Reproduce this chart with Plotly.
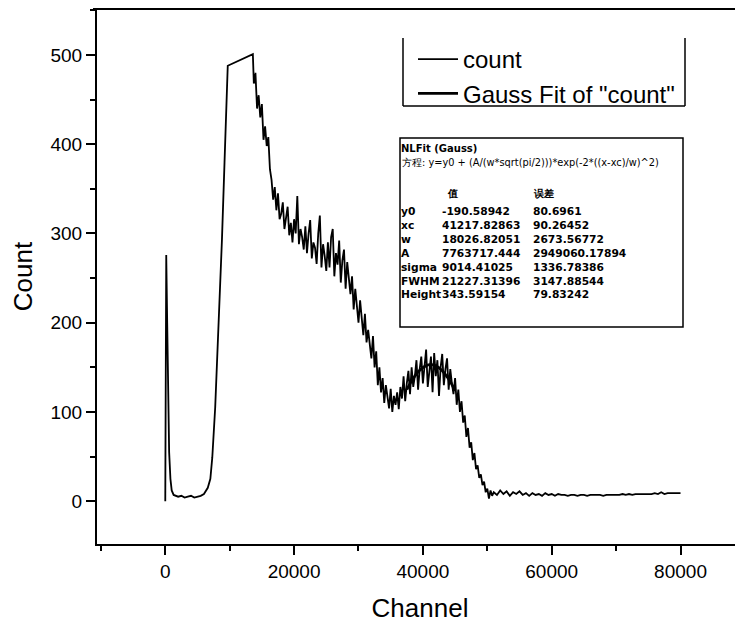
import plotly.graph_objects as go

# ---------------- data ----------------
channel_start = [0, 150, 300, 450, 600, 800, 1000, 1300, 1600, 2000, 2500, 3000, 3500,
                 4000, 4500, 5000, 5500, 6000, 6600, 7000, 7300, 7750, 8200, 8800, 9200, 9700]
count_start = [0, 276, 200, 100, 55, 25, 12, 7, 6, 5, 6, 4, 5,
               6, 4, 5, 6, 8, 15, 25, 49, 105, 180, 293, 380, 488]

channel_main = [13600, 13750, 14000, 14250, 14500, 14750, 15000, 15250, 15500, 15750,
                16000, 16250, 16500, 16750, 17000, 17250, 17500, 17750, 18000, 18250,
                18500, 18750, 19000, 19250, 19500, 19750, 20000, 20250, 20500, 20750,
                21000, 21250, 21500, 21750, 22000, 22250, 22500, 22750, 23000, 23250,
                23500, 23750, 24000, 24250, 24500, 24750, 25000, 25250, 25500, 25750,
                26000, 26250, 26500, 26750, 27000, 27250, 27500, 27750, 28000, 28250,
                28500, 28750, 29000, 29250, 29500, 29750, 30000, 30250, 30500, 30750,
                31000, 31250, 31500, 31750, 32000, 32250, 32500, 32750, 33000, 33250,
                33500, 33750, 34000, 34250, 34500, 34750, 35000, 35250, 35500, 35750,
                36000, 36250, 36500, 36750, 37000, 37250, 37500, 37750, 38000, 38250,
                38500, 38750, 39000, 39250, 39500, 39750, 40000, 40250, 40500, 40750,
                41000, 41250, 41500, 41750, 42000, 42250, 42500, 42750, 43000, 43250,
                43500, 43750, 44000, 44250, 44500, 44750, 45000, 45250, 45500, 45750,
                46000, 46250, 46500, 46750, 47000, 47250, 47500, 47750, 48000, 48250,
                48500, 48750, 49000, 49250, 49500, 49750, 50000, 50250, 50500, 50750]
count_main = [501, 468, 480, 440, 455, 430, 445, 405, 420, 398,
              408, 372, 360, 338, 352, 326, 345, 316, 322, 335,
              305, 318, 330, 298, 312, 290, 316, 300, 342, 288,
              305, 296, 282, 308, 278, 300, 315, 272, 290, 284,
              266, 300, 320, 262, 288, 275, 258, 290, 262, 296,
              305, 252, 278, 265, 292, 245, 270, 282, 238, 268,
              250, 232, 252, 215, 238, 222, 200, 225, 205, 186,
              210, 178, 192, 175, 160, 185, 150, 168, 130, 150,
              122, 138, 110, 130, 115, 104, 126, 100, 118, 108,
              122, 103, 128, 115, 140, 112, 132, 146, 120, 150,
              128, 140, 158, 125, 148, 162, 132, 155, 170, 128,
              150, 162, 122, 166, 140, 158, 118, 150, 165, 130,
              148, 160, 125, 148, 132, 120, 138, 108, 125, 100,
              112, 88, 96, 72, 82, 60, 66, 46, 54, 36,
              40, 26, 30, 18, 22, 10, 14, 3, 12, 6]

channel_tail = [51000, 51500, 52000, 52500, 53000, 53500, 54000, 54500, 55000, 55500,
                56000, 56500, 57000, 57500, 58000, 58500, 59000, 59500, 60000, 60500,
                61000, 61500, 62000, 62500, 63000, 63500, 64000, 64500, 65000, 65500,
                66000, 66500, 67000, 67500, 68000, 68500, 69000, 69500, 70000, 70500,
                71000, 71500, 72000, 72500, 73000, 73500, 74000, 74500, 75000, 75500,
                76000, 76500, 77000, 77500, 78000, 78500, 79000, 79500, 80000]
count_tail = [10, 7, 12, 8, 11, 6, 10, 8, 11, 7,
              9, 6, 9, 7, 8, 6, 9, 7, 8, 6,
              8, 7, 7, 6, 7, 7, 6, 7, 7, 6,
              7, 7, 7, 7, 6, 7, 7, 7, 7, 7,
              8, 7, 8, 7, 8, 8, 8, 8, 8, 8,
              9, 8, 10, 8, 9, 9, 9, 9, 9]

fit_channel = [37500, 38500, 39500, 40500, 41217, 42000, 43000, 44000, 45000]
fit_count = [125.0, 137.7, 146.8, 151.9, 153.0, 151.7, 146.3, 137.0, 124.0]

legend_names = ["count", 'Gauss Fit of "count"']

fit_title = "NLFit (Gauss)"
fit_equation = "方程: y=y0 + (A/(w*sqrt(pi/2)))*exp(-2*((x-xc)/w)^2)"
fit_headers = ["值", "误差"]
param_names = ["y0", "xc", "w", "A", "sigma", "FWHM", "Height"]
param_values = ["-190.58942", "41217.82863", "18026.82051", "7763717.444",
                "9014.41025", "21227.31396", "343.59154"]
param_errors = ["80.6961", "90.26452", "2673.56772", "2949060.17894",
                "1336.78386", "3147.88544", "79.83242"]

x_ticks = [0, 20000, 40000, 60000, 80000]
y_ticks = [0, 100, 200, 300, 400, 500]

# ---------------- figure ----------------
# page body has an 8px margin: figure pixel = screen pixel - 8
OFF = 8
W, H = 743 - OFF, 630 - OFF
SL, SR, ST, SB = 97, 743, 9, 544          # plot area in screen pixels
ML, MR, MT, MB = SL - OFF, W - (SR - OFF), ST - OFF, H - (SB - OFF)
PW, PH = W - ML - MR, H - MT - MB


def px(x):
    return (x - SL) / PW


def py(y):
    return (SB - y) / PH


FONT = "Liberation Sans, Arial, sans-serif"
TFONT = "DejaVu Sans, sans-serif"

fig = go.Figure()
fig.add_trace(go.Scatter(
    x=channel_start + channel_main + channel_tail,
    y=count_start + count_main + count_tail,
    mode="lines", line=dict(color="black", width=1.8),
    name=legend_names[0], legendgroup="a"))
fig.add_trace(go.Scatter(
    x=fit_channel, y=fit_count, mode="lines",
    line=dict(color="black", width=2.8, shape="spline"),
    name=legend_names[1], legendgroup="b"))

axis_common = dict(
    showline=True, linecolor="black", linewidth=2,
    ticks="outside", tickcolor="black", tickwidth=2, ticklen=9,
    showgrid=False, zeroline=False, automargin=False,
    tickfont=dict(family=FONT, size=19, color="black"),
)

fig.update_xaxes(
    range=[-10600, 89700], tickvals=x_ticks,
    ticktext=[str(v) for v in x_ticks],
    minor=dict(dtick=10000, tick0=0, ticks="outside", ticklen=5,
               tickwidth=2, tickcolor="black"),
    title=dict(text="Channel", font=dict(family=FONT, size=26, color="black"),
               standoff=18),
    **axis_common)
fig.update_yaxes(
    range=[-48, 551.6], tickvals=y_ticks,
    ticktext=[str(v) for v in y_ticks],
    minor=dict(dtick=50, tick0=0, ticks="outside", ticklen=5,
               tickwidth=2, tickcolor="black"),
    title=dict(text="Count", font=dict(family=FONT, size=26, color="black"),
               standoff=10),
    **axis_common)

shapes = [
    # top frame line
    dict(type="line", xref="paper", yref="paper", x0=px(93), x1=1, y0=1, y1=1,
         line=dict(color="black", width=2)),
    # legend box (left, right, bottom)
    dict(type="line", xref="paper", yref="paper", x0=px(403), x1=px(403),
         y0=py(38), y1=py(106), line=dict(color="black", width=1.5)),
    dict(type="line", xref="paper", yref="paper", x0=px(685), x1=px(685),
         y0=py(38), y1=py(106), line=dict(color="black", width=1.5)),
    dict(type="line", xref="paper", yref="paper", x0=px(403), x1=px(685),
         y0=py(106), y1=py(106), line=dict(color="black", width=1.5)),
    # fit results box
    dict(type="rect", xref="paper", yref="paper", x0=px(400), x1=px(683),
         y0=py(327), y1=py(138), line=dict(color="black", width=1.5),
         fillcolor="white", layer="above"),
]

annotations = []


def txt(x, y, s, size, weight="bold"):
    annotations.append(dict(
        xref="paper", yref="paper", x=px(x), y=py(y), text=s, showarrow=False,
        xanchor="left", yanchor="middle", align="left", borderpad=0,
        font=dict(family=TFONT, size=size, color="black", weight=weight)))


txt(400, 148, fit_title, 10)
txt(401, 162, fit_equation, 9.8, "normal")
txt(446, 193, fit_headers[0], 10)
txt(532, 193, fit_headers[1], 10)
# table columns (one multi-line block per column, rows 212 ... 294)
txt(400, 253, "<br>".join(param_names), 10.7)
txt(441, 253, "<br>".join(param_values), 10.7)
txt(532, 253, "<br>".join(param_errors), 10.7)

fig.update_layout(
    width=W, height=H,
    margin=dict(l=ML, r=MR, t=MT, b=MB, pad=0, autoexpand=False),
    paper_bgcolor="white", plot_bgcolor="white",
    font=dict(family=FONT, color="black"),
    shapes=shapes, annotations=annotations,
    showlegend=True,
    legend=dict(x=px(413), y=py(37), xanchor="left", yanchor="top",
                bgcolor="rgba(0,0,0,0)", borderwidth=0,
                font=dict(family=FONT, size=24, color="black"),
                traceorder="grouped", tracegroupgap=0, itemwidth=40),
)

fig.write_html("out.html")
